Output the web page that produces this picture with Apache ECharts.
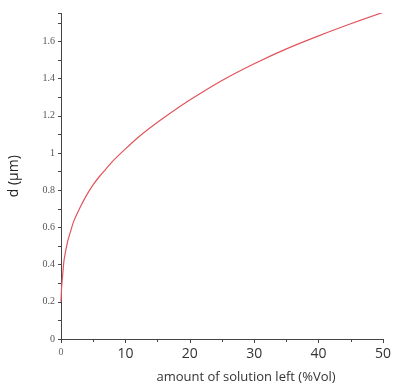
<!DOCTYPE html>
<html>
<head>
<meta charset="utf-8">
<script src="https://cdn.jsdelivr.net/npm/echarts@6/dist/echarts.min.js"></script>
<style>
  html, body { margin: 0; padding: 0; background: #fff; }
  #chart { width: 396px; height: 385px; }
</style>
</head>
<body>
<div id="chart"></div>
<script>
// values
const xVals = [0, 0.1, 0.25, 0.5, 1, 1.5, 2, 3, 4, 5, 6, 7, 8, 10, 12, 14, 17, 20, 25, 30, 35, 40, 45, 50]
const dVals = [0.20, 0.28, 0.34, 0.43, 0.52, 0.58, 0.635, 0.71, 0.775, 0.83, 0.875, 0.915, 0.955, 1.022, 1.085, 1.14, 1.215, 1.285, 1.39, 1.48, 1.56, 1.63, 1.695, 1.756]

const chart = echarts.init(document.getElementById('chart'))

const option = {
  animation: false,
  grid: { left: 61, right: 13, top: 13.5, bottom: 46, containLabel: false, outerBoundsMode: 'none' },
  xAxis: {
    type: 'value',
    min: 0,
    max: 50,
    interval: 10,
    name: 'amount of solution left (%Vol)',
    nameLocation: 'middle',
    nameGap: 32,
    nameTextStyle: { fontFamily: 'Open Sans', fontSize: 13, color: '#333', padding: [0, 0, 0, 48] },
    axisLine: { lineStyle: { color: '#444', width: 1 } },
    axisTick: { show: true, length: 4, lineStyle: { color: '#444' } },
    minorTick: { show: true, splitNumber: 2, length: 3, lineStyle: { color: '#444' } },
    splitLine: { show: false },
    axisLabel: {
      margin: 8,
      formatter: (v) => v === 0 ? '{z|0}' : '{n|' + v + '}',
      rich: {
        z: { fontFamily: 'Liberation Serif', fontSize: 10, color: '#666' },
        n: { fontFamily: 'Open Sans', fontSize: 14, color: '#333' }
      }
    }
  },
  yAxis: {
    type: 'value',
    min: 0,
    max: 1.75,
    interval: 0.2,
    name: 'd (μm)',
    nameLocation: 'middle',
    nameGap: 40,
    nameTextStyle: { fontFamily: 'Open Sans', fontSize: 14, color: '#222' },
    axisLine: { show: true, lineStyle: { color: '#444', width: 1 } },
    axisTick: { show: true, length: 3, lineStyle: { color: '#444' } },
    minorTick: { show: true, splitNumber: 2, length: 3, lineStyle: { color: '#444' } },
    splitLine: { show: false },
    axisLabel: {
      margin: 6,
      showMaxLabel: false,
      fontFamily: 'Liberation Serif',
      fontSize: 10,
      color: '#555'
    }
  },
  series: [
    {
      type: 'line',
      smooth: 0.3,
      showSymbol: false,
      data: xVals.map((x, i) => [x, dVals[i]]),
      lineStyle: { color: '#e2545b', width: 1.2 }
    }
  ]
}

chart.setOption(option)
</script>
</body>
</html>
